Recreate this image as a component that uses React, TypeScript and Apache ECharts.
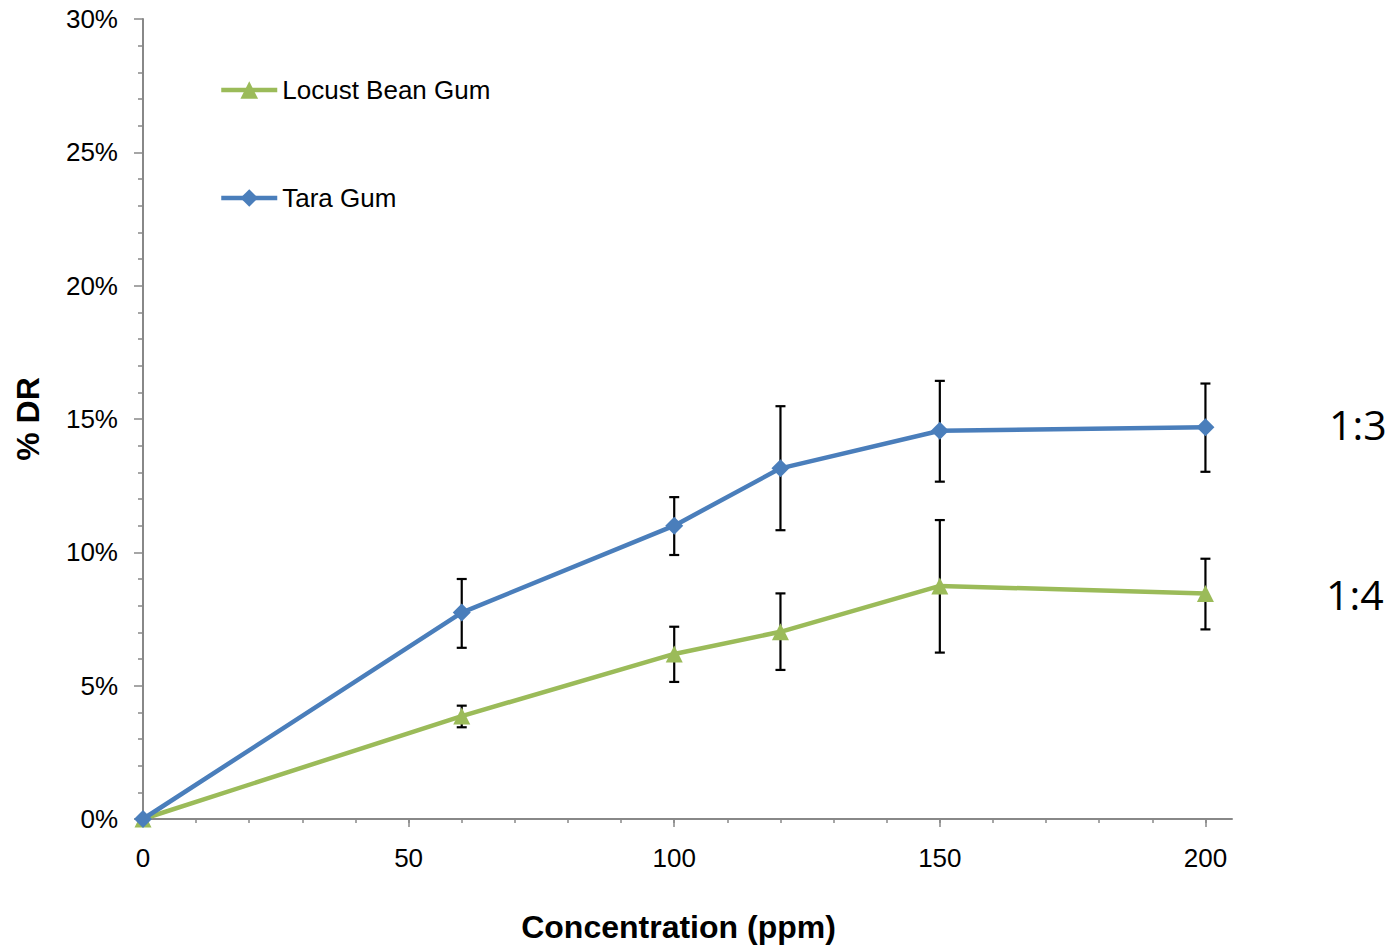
import React, { useEffect, useRef } from "react";
import * as echarts from "echarts";

const concentrations = [0, 60, 100, 120, 150, 200];
const taraValues = [0, 7.74, 11.0, 13.15, 14.56, 14.69];
const taraLow = [0, 6.42, 9.9, 10.83, 12.65, 13.02];
const taraHigh = [0, 9.0, 12.07, 15.48, 16.43, 16.33];
const lbgValues = [0, 3.86, 6.19, 7.02, 8.74, 8.46];
const lbgLow = [0, 3.44, 5.14, 5.59, 6.24, 7.11];
const lbgHigh = [0, 4.25, 7.21, 8.46, 11.21, 9.76];
const xMajorTicks = [0, 50, 100, 150, 200];
const xMinorTicks = [0, 10, 20, 30, 40, 50, 60, 70, 80, 90, 100, 110, 120, 130, 140, 150, 160, 170, 180, 190, 200];
const seriesNames = ["Locust Bean Gum", "Tara Gum"];
const ratioLabels = ["1:3", "1:4"];

const FONT = "'Liberation Sans', Arial, sans-serif";
const AXIS_COLOR = "#888888";
const BLUE = "#4A7EBB";
const GREEN = "#9BBB59";

function errorData(low: number[], high: number[]) {
  return concentrations
    .map((x, i) => [x, low[i], high[i]])
    .filter((d) => d[2] - d[1] > 0);
}

const renderError = (params: any, api: any) => {
  const x = api.value(0);
  const lo = api.coord([x, api.value(1)]);
  const hi = api.coord([x, api.value(2)]);
  const hw = 5;
  const style = { stroke: "#000000", lineWidth: 2.2 };
  return {
    type: "group",
    children: [
      { type: "line", shape: { x1: lo[0], y1: lo[1], x2: hi[0], y2: hi[1] }, style },
      { type: "line", shape: { x1: hi[0] - hw, y1: hi[1], x2: hi[0] + hw, y2: hi[1] }, style },
      { type: "line", shape: { x1: lo[0] - hw, y1: lo[1], x2: lo[0] + hw, y2: lo[1] }, style },
    ],
  };
};

export default function App() {
  const ref = useRef<HTMLDivElement>(null);
  useEffect(() => {
    if (!ref.current) return;
    const chart = echarts.init(ref.current, null, { renderer: "svg" });
    chart.setOption({
      animation: false,
      backgroundColor: "#ffffff",
      grid: { left: 143, top: 19, width: 1089, height: 800, containLabel: false },
      legend: {
        orient: "vertical",
        left: 219,
        top: 75,
        padding: 0,
        itemWidth: 56,
        itemHeight: 22,
        itemGap: 78,
        data: seriesNames,
        lineStyle: { width: 4.5 },
        textStyle: { fontFamily: FONT, fontSize: 26, color: "#000", lineHeight: 30 },
      },
      xAxis: [
        {
          type: "value",
          min: 0,
          max: 205,
          position: "bottom",
          name: "Concentration (ppm)",
          nameLocation: "middle",
          nameGap: 92,
          nameTextStyle: { fontFamily: FONT, fontSize: 32, fontWeight: "bold", color: "#000", padding: [0, 18, 0, 0] },
          axisLine: { show: true, onZero: false, lineStyle: { color: AXIS_COLOR, width: 2 } },
          axisTick: { show: true, customValues: xMinorTicks, length: 4, inside: false, lineStyle: { color: AXIS_COLOR, width: 1.5 } },
          axisLabel: { show: true, customValues: xMajorTicks, margin: 26, fontFamily: FONT, fontSize: 26, color: "#000" },
          splitLine: { show: false },
        },
        {
          type: "value",
          min: 0,
          max: 205,
          position: "bottom",
          offset: 0,
          axisLine: { show: false },
          axisTick: { show: true, customValues: xMajorTicks, length: 8, lineStyle: { color: AXIS_COLOR, width: 1.5 } },
          axisLabel: { show: false },
          splitLine: { show: false },
        },
      ],
      yAxis: {
        type: "value",
        min: 0,
        max: 30,
        interval: 5,
        name: "% DR",
        nameLocation: "middle",
        nameRotate: 90,
        nameGap: 99,
        nameTextStyle: { fontFamily: FONT, fontSize: 32, fontWeight: "bold", color: "#000" },
        axisLine: { show: true, lineStyle: { color: AXIS_COLOR, width: 2 } },
        axisTick: { show: true, length: 9, lineStyle: { color: AXIS_COLOR, width: 1.5 } },
        minorTick: { show: true, splitNumber: 5, length: 5, lineStyle: { color: AXIS_COLOR, width: 1.5 } },
        axisLabel: { margin: 25, fontFamily: FONT, fontSize: 26, color: "#000", formatter: (v: number) => `${v}%` },
        splitLine: { show: false },
      },
      series: [
        {
          name: "Locust Bean Gum error",
          type: "custom",
          renderItem: renderError,
          data: errorData(lbgLow, lbgHigh),
          encode: { x: 0, y: [1, 2] },
          z: 1,
          silent: true,
        },
        {
          name: "Tara Gum error",
          type: "custom",
          renderItem: renderError,
          data: errorData(taraLow, taraHigh),
          encode: { x: 0, y: [1, 2] },
          z: 1,
          silent: true,
        },
        {
          name: seriesNames[0],
          type: "line",
          data: concentrations.map((x, i) => [x, lbgValues[i]]),
          symbol: "triangle",
          symbolSize: 17,
          lineStyle: { color: GREEN, width: 4.5 },
          itemStyle: { color: GREEN },
          z: 3,
        },
        {
          name: seriesNames[1],
          type: "line",
          data: concentrations.map((x, i) => [x, taraValues[i]]),
          symbol: "diamond",
          symbolSize: 18,
          lineStyle: { color: BLUE, width: 4.5 },
          itemStyle: { color: BLUE },
          z: 4,
        },
      ],
      graphic: [
        {
          type: "text",
          left: 1329,
          top: 403,
          style: { text: ratioLabels[0], fontFamily: "'Open Sans', sans-serif", fontSize: 41, fill: "#000" },
        },
        {
          type: "text",
          left: 1326,
          top: 573,
          style: { text: ratioLabels[1], fontFamily: "'Open Sans', sans-serif", fontSize: 41, fill: "#000" },
        },
      ],
    });
    return () => chart.dispose();
  }, []);
  return <div ref={ref} style={{ position: "absolute", left: 0, top: 0, width: 1398, height: 950 }} />;
}
